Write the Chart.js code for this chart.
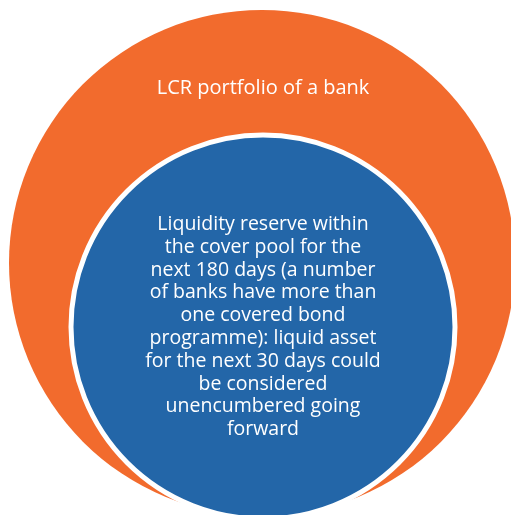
<!DOCTYPE html>
<html>
<head>
<meta charset="utf-8">
<script src="https://cdn.jsdelivr.net/npm/chart.js@4.4.1/dist/chart.umd.min.js"></script>
<style>
    html, body { margin: 0; padding: 0; background: #fff; }
    #wrap { position: relative; width: 511px; height: 515px; }
</style>
</head>
<body>
<div id="wrap"><canvas id="chart"></canvas></div>
<script>
// circles in page units (x right, y down)
const circleNames = ['LCR portfolio', 'Cover pool reserve'];
const circleX = [262, 263];
const circleY = [263, 327];
const circleR = [253, 192];

const outerLabel = ['LCR portfolio of a bank'];
const innerLabel = [
    'Liquidity reserve within',
    'the cover pool for the',
    'next 180 days (a number',
    'of banks have more than',
    'one covered bond',
    'programme): liquid asset',
    'for the next 30 days could',
    'be considered',
    'unencumbered going',
    'forward',
];

const labelPlugin = {
    id: 'circleLabels',
    afterDatasetsDraw(chart) {
        const { ctx, scales } = chart;
        ctx.save();
        ctx.fillStyle = '#ffffff';
        ctx.textAlign = 'center';
        ctx.textBaseline = 'middle';

        // title sits in the orange band above the inner circle
        ctx.font = '20px "Open Sans", "Noto Sans", sans-serif';
        const ox = scales.x.getPixelForValue(circleX[1]);
        const innerTop = scales.y.getPixelForValue(circleY[1]) - circleR[1];
        ctx.fillText(outerLabel[0], ox, innerTop - 47);

        ctx.font = '19.5px "Open Sans", "Noto Sans", sans-serif';
        const ix = scales.x.getPixelForValue(circleX[1]);
        const iy = scales.y.getPixelForValue(circleY[1]);
        const lh = 22.8;
        const start = iy - (innerLabel.length - 1) * lh / 2;
        innerLabel.forEach((line, i) => ctx.fillText(line, ix, start + i * lh));
        ctx.restore();
    },
};

new Chart(document.getElementById('chart'), {
    type: 'bubble',
    data: {
        datasets: circleNames.map((name, i) => ({
            label: name,
            data: [{ x: circleX[i], y: circleY[i], r: circleR[i] }],
            backgroundColor: i === 0 ? '#f26b2d' : '#2366a8',
            borderColor: '#ffffff',
            borderWidth: i === 0 ? 0 : 5,
            hoverRadius: 0,
            hoverBorderWidth: i === 0 ? 0 : 5,
            clip: false,
            order: i === 0 ? 1 : 0,
        })),
    },
    options: {
        responsive: true,
        maintainAspectRatio: false,
        animation: false,
        events: [],
        layout: { padding: 0, autoPadding: false },
        plugins: { legend: { display: false }, tooltip: { enabled: false } },
        scales: {
            x: { type: 'linear', min: 0, max: 511, display: false },
            y: { type: 'linear', min: 0, max: 515, reverse: true, display: false },
        },
    },
    plugins: [labelPlugin],
});
</script>
</body>
</html>
